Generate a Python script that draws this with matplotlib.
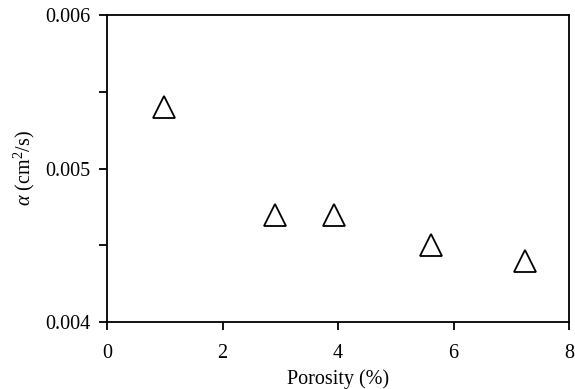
import numpy as np
import matplotlib
matplotlib.use('Agg')
import matplotlib.pyplot as plt
from matplotlib.ticker import FixedFormatter, FixedLocator

# values
porosity = [0.99, 2.91, 3.93, 5.61, 7.24]
diffusivity = [0.0054, 0.0047, 0.0047, 0.0045, 0.0044]

x_ticks = [0, 2, 4, 6, 8]
y_ticks = [0.004, 0.0045, 0.005, 0.0055, 0.006]
y_tick_labels = ['0.004', '', '0.005', '', '0.006']

fs = 14.5
plt.rc('font', family='Liberation Serif', size=fs)
plt.rc('mathtext', fontset='custom', it='Liberation Serif:italic', rm='Liberation Serif')

fig = plt.figure(figsize=(5.75, 3.89), dpi=100)
ax = fig.add_axes([107 / 575, 1 - 322 / 389, (569 - 107) / 575, (322 - 15) / 389])

ax.plot(porosity, diffusivity, ls='none', marker='^', ms=15.5,
        mfc='white', mec='black', mew=1.3, clip_on=False)

ax.set_xlim(0, 8)
ax.set_ylim(0.004, 0.006)
ax.xaxis.set_major_locator(FixedLocator(x_ticks))
ax.yaxis.set_major_locator(FixedLocator(y_ticks))
ax.yaxis.set_major_formatter(FixedFormatter(y_tick_labels))
ax.tick_params(direction='out', length=6, width=1.3, labelsize=fs)
ax.tick_params(axis='x', pad=10)
ax.tick_params(axis='y', pad=6)
for s in ax.spines.values():
    s.set_linewidth(1.3)

ax.set_xlabel('Porosity (%)', fontsize=fs, labelpad=4)
ax.set_ylabel(r'$\alpha$ (cm$^2$/s)', fontsize=fs, labelpad=6)

fig.savefig('out.png', dpi=100)
